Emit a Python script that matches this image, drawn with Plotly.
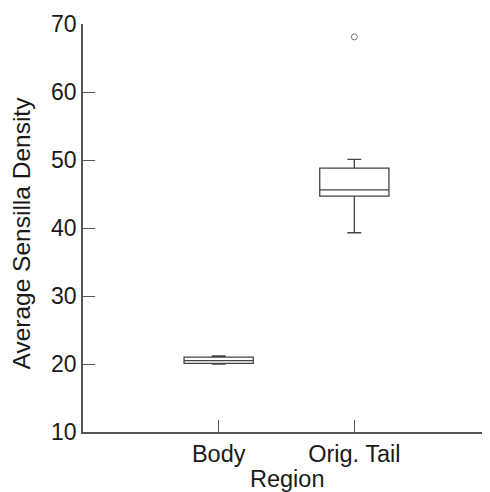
import plotly.graph_objects as go

categories = ["Body", "Orig. Tail"]
positions = [1, 2]
lower_fence = [20.0, 39.3]
q1 = [20.1, 44.7]
median = [20.5, 45.6]
q3 = [21.0, 48.8]
upper_fence = [21.2, 50.1]
outlier_pos = [2]
outlier_vals = [68.1]
y_ticks = [10, 20, 30, 40, 50, 60, 70]
x_title = "Region"
y_title = "Average Sensilla Density"

line_col = "#555555"
fig = go.Figure()
fig.add_trace(go.Box(
    x=positions, q1=q1, median=median, q3=q3,
    lowerfence=lower_fence, upperfence=upper_fence,
    width=0.51, whiskerwidth=0.2,
    line=dict(color="#444444", width=1.3),
    fillcolor="rgba(255,255,255,0)",
    boxpoints=False, showlegend=False, hoverinfo="skip",
))
fig.add_trace(go.Scatter(
    x=outlier_pos, y=outlier_vals, mode="markers",
    marker=dict(symbol="circle-open", size=6, color="#777777", line=dict(width=1)),
    showlegend=False,
))

font_family = "Liberation Sans, Arial, sans-serif"
fig.update_layout(
    width=482, height=484,
    margin=dict(l=75, r=0, t=16, b=60),
    paper_bgcolor="white", plot_bgcolor="white",
    font=dict(family=font_family, color="#1a1a1a"),
    xaxis=dict(
        range=[0, 3], tickmode="array", tickvals=positions, ticktext=categories,
        ticks="inside", ticklen=12, tickcolor=line_col, tickwidth=1,
        showline=True, linecolor=line_col, linewidth=1.5,
        showgrid=False, zeroline=False, automargin=False,
        tickfont=dict(size=23.5),
    ),
    yaxis=dict(
        range=[10, 70], tickmode="array", tickvals=y_ticks,
        ticks="inside", ticklen=12, tickcolor=line_col, tickwidth=1,
        showline=True, linecolor=line_col, linewidth=1.5,
        showgrid=False, zeroline=False, automargin=False,
        tickfont=dict(size=23),
    ),
    annotations=[
        dict(text=x_title, xref="paper", yref="paper", x=0.5, y=0,
             xanchor="center", yanchor="top", yshift=-32, showarrow=False,
             font=dict(size=23.5)),
        dict(text=y_title, xref="paper", yref="paper", x=0, y=0.5,
             xanchor="center", yanchor="middle", xshift=-62, yshift=-5.5,
             textangle=-90, showarrow=False, font=dict(size=24.5)),
    ],
)
fig.write_html("out.html")
